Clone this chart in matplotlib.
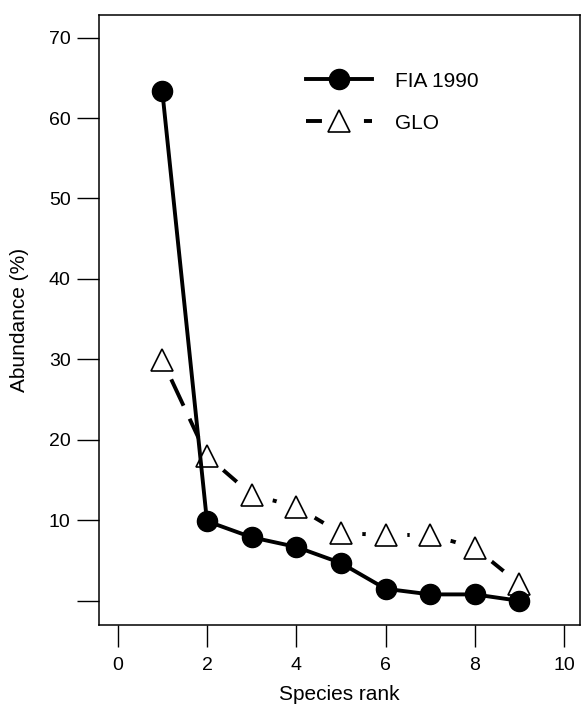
import numpy as np
import matplotlib
matplotlib.use('Agg')
import matplotlib.pyplot as plt
from matplotlib.lines import Line2D

plt.rcParams['font.family'] = ['Liberation Sans', 'DejaVu Sans']

# species rank abundance (%)
rank = [1, 2, 3, 4, 5, 6, 7, 8, 9]
fia_1990 = [63.3, 9.9, 7.9, 6.7, 4.7, 1.5, 0.8, 0.8, 0.0]
glo = [29.9, 18.0, 13.2, 11.7, 8.4, 8.2, 8.2, 6.6, 2.1]

xticks = [0, 2, 4, 6, 8, 10]
yticks = [0, 10, 20, 30, 40, 50, 60, 70]
yticklabels = ['', '10', '20', '30', '40', '50', '60', '70']

fig = plt.figure(figsize=(5.82, 7.09), dpi=100)
ax = fig.add_axes([0.170, 0.1185, 0.826, 0.8603])

# GLO: dash pattern restarts on every segment, white gap round each marker
for i in range(len(rank) - 1):
    ax.plot(rank[i:i + 2], glo[i:i + 2], color='black', lw=2.8,
            dashes=(12.9, 3.7), zorder=2)
ax.plot(rank, glo, ls='none', marker='o', ms=30, mfc='white', mec='none',
        zorder=2.5)
ax.plot(rank, glo, ls='none', marker='^', ms=16, mfc='white', mec='black',
        mew=1.2, zorder=2.6)
ax.plot(rank, fia_1990, color='black', lw=2.8, marker='o', ms=14.5,
        mfc='black', mec='black', zorder=3)

ax.set_xlim(-0.42, 10.35)
ax.set_ylim(-3.0, 72.8)
ax.set_xticks(xticks)
ax.set_yticks(yticks)
ax.set_yticklabels(yticklabels)
ax.tick_params(axis='both', direction='out', length=16, width=1,
               labelsize=14)
ax.tick_params(axis='x', pad=7)
ax.tick_params(axis='y', pad=4.3)
for s in ax.spines.values():
    s.set_linewidth(1.1)

ax.set_xlabel('Species rank', fontsize=15, labelpad=8)
ax.set_ylabel('Abundance (%)', fontsize=15, labelpad=14)

h_fia = Line2D([], [], color='black', lw=2.8, marker='o', ms=14.5,
               mfc='black', mec='black')
h_glo = Line2D([], [], color='black', lw=2.8, dashes=(4.1, 10.8),
               marker='^', ms=16, mfc='white', mec='black', mew=1.2)
ax.legend([h_fia, h_glo], ['FIA 1990', 'GLO'], loc='upper left',
          bbox_to_anchor=(0.430, 0.907), frameon=False, fontsize=15,
          handlelength=3.2, handletextpad=1.1, labelspacing=1.1,
          borderpad=0, borderaxespad=0)

fig.savefig('out.png', dpi=100)
